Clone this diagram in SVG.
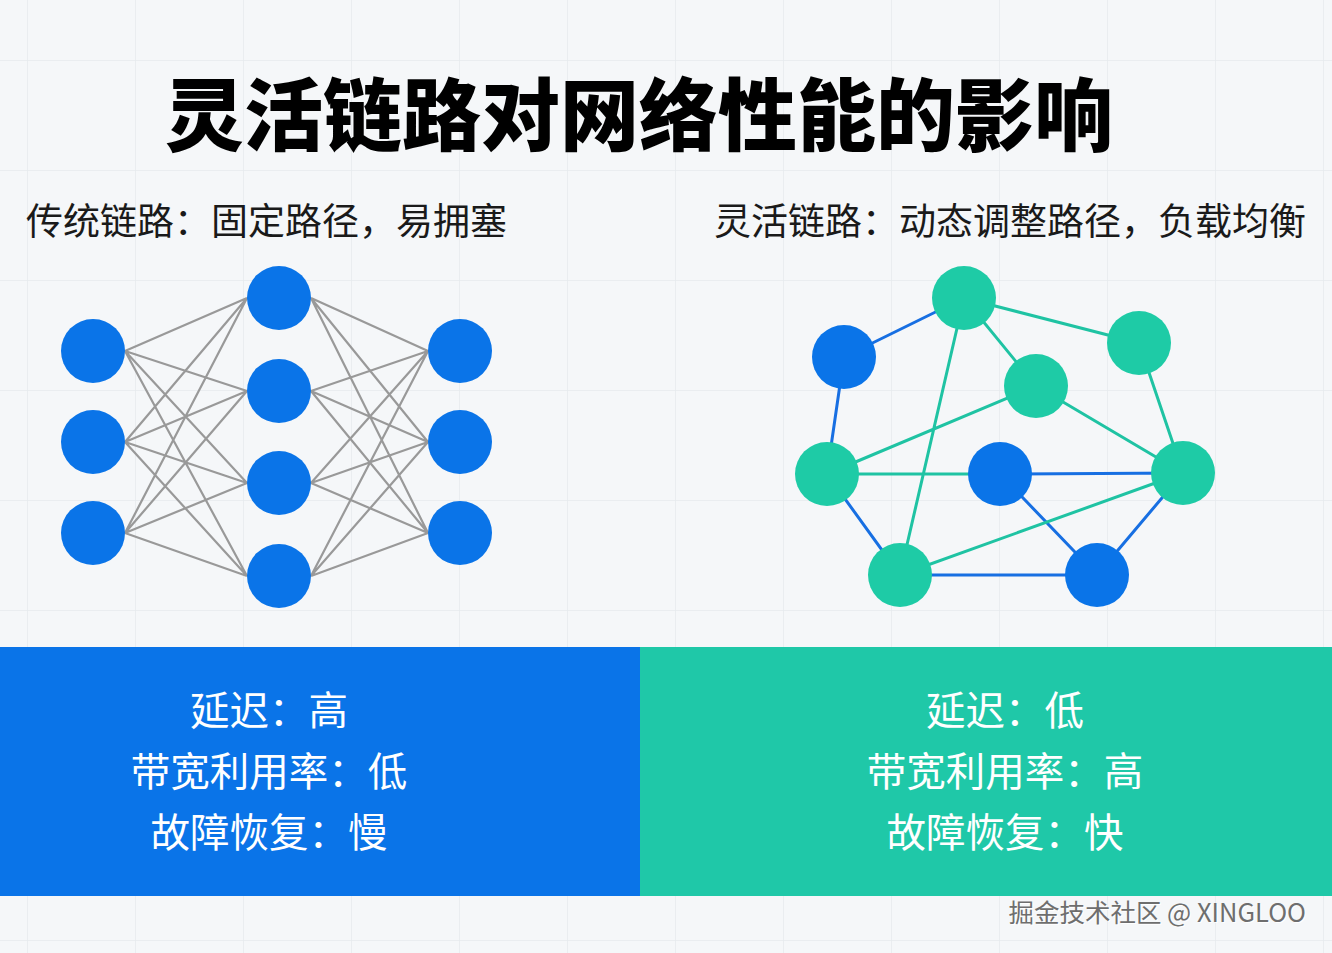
<svg xmlns="http://www.w3.org/2000/svg" width="1332" height="953" viewBox="0 0 1332 953">
<defs>
<pattern id="grid" x="27" y="60" width="108" height="110" patternUnits="userSpaceOnUse">
<path d="M0 0H108M0 0V110" fill="none" stroke="#e6eaed" stroke-width="1.5"/>
</pattern>
<style>
.bn{fill:#0a74e8}
.gn{fill:#1ecba6}
.gl{stroke:#999999;stroke-width:2.2;fill:none}
.eb{stroke:#176fe2;stroke-width:3;fill:none}
.eg{stroke:#1fc3a3;stroke-width:3;fill:none}
.t{font-family:"Noto Sans CJK SC","Noto Sans",sans-serif}
.title{font-size:79px;font-weight:900;fill:#000}
.sub{font-size:37px;fill:#1a1a1a}
.pt{font-size:39.5px;fill:#ffffff;text-anchor:middle}
.wm{font-size:25.5px}
</style>
</defs>
<rect width="1332" height="953" fill="#f5f7f9"/>
<rect width="1332" height="953" fill="url(#grid)"/>

<g id="title"><text class="t title" x="639" y="145" text-anchor="middle">灵活链路对网络性能的影响</text></g>
<g id="subtitle-left"><text class="t sub" x="26" y="235">传统链路：固定路径，易拥塞</text></g>
<g id="subtitle-right"><text class="t sub" x="1306" y="235" text-anchor="end">灵活链路：动态调整路径，负载均衡</text></g>

<g id="connectors-left">
<path class="gl" d="M125 351L247 298M125 351L247 391M125 351L247 483M125 351L247 576
M125 442L247 298M125 442L247 391M125 442L247 483M125 442L247 576
M125 533L247 298M125 533L247 391M125 533L247 483M125 533L247 576
M311 298L428 351M311 298L428 442M311 298L428 533
M311 391L428 351M311 391L428 442M311 391L428 533
M311 483L428 351M311 483L428 442M311 483L428 533
M311 576L428 351M311 576L428 442M311 576L428 533"/>
</g>
<g id="left-in-1"><circle class="bn" cx="93" cy="351" r="32"/></g>
<g id="left-in-2"><circle class="bn" cx="93" cy="442" r="32"/></g>
<g id="left-in-3"><circle class="bn" cx="93" cy="533" r="32"/></g>
<g id="left-mid-1"><circle class="bn" cx="279" cy="298" r="32"/></g>
<g id="left-mid-2"><circle class="bn" cx="279" cy="391" r="32"/></g>
<g id="left-mid-3"><circle class="bn" cx="279" cy="483" r="32"/></g>
<g id="left-mid-4"><circle class="bn" cx="279" cy="576" r="32"/></g>
<g id="left-out-1"><circle class="bn" cx="460" cy="351" r="32"/></g>
<g id="left-out-2"><circle class="bn" cx="460" cy="442" r="32"/></g>
<g id="left-out-3"><circle class="bn" cx="460" cy="533" r="32"/></g>

<g id="connectors-right">
<path class="eb" d="M844 357L964 298M844 357L827 474M827 474L900 575M900 575L1097 575M1000 474L1097 575M1097 575L1183 473M1000 474L1183 473"/>
<path class="eg" d="M964 298L1139 343M964 298L1036 386M964 298L900 575M1139 343L1183 473M1036 386L827 474M1036 386L1183 473M827 474L1000 474M900 575L1183 473"/>
</g>
<g id="right-a"><circle class="bn" cx="844" cy="357" r="32"/></g>
<g id="right-b"><circle class="gn" cx="964" cy="298" r="32"/></g>
<g id="right-c"><circle class="gn" cx="1139" cy="343" r="32"/></g>
<g id="right-d"><circle class="gn" cx="1036" cy="386" r="32"/></g>
<g id="right-e"><circle class="gn" cx="827" cy="474" r="32"/></g>
<g id="right-f"><circle class="bn" cx="1000" cy="474" r="32"/></g>
<g id="right-g"><circle class="gn" cx="1183" cy="473" r="32"/></g>
<g id="right-h"><circle class="gn" cx="900" cy="575" r="32"/></g>
<g id="right-i"><circle class="bn" cx="1097" cy="575" r="32"/></g>

<g id="panel-left">
<rect x="0" y="647" width="640" height="249" fill="#0a74e8"/>
<text class="t pt" x="269" y="725">延迟：高</text>
<text class="t pt" x="269" y="786">带宽利用率：低</text>
<text class="t pt" x="269" y="847">故障恢复：慢</text>
</g>
<g id="panel-right">
<rect x="640" y="647" width="692" height="249" fill="#1fc8a8"/>
<text class="t pt" x="1005" y="725">延迟：低</text>
<text class="t pt" x="1005" y="786">带宽利用率：高</text>
<text class="t pt" x="1005" y="847">故障恢复：快</text>
</g>

<g id="watermark">
<text class="t wm" x="1306" y="922" text-anchor="end" fill="#ffffff" transform="translate(1 1)">掘金技术社区 @ XINGLOO</text>
<text class="t wm" x="1306" y="922" text-anchor="end" fill="#6e6e6e">掘金技术社区 @ XINGLOO</text>
</g>
</svg>
